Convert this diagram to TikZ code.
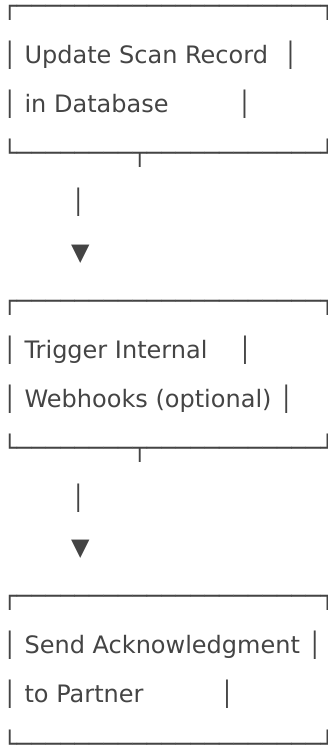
\documentclass[tikz,border=0pt]{standalone}
\usepackage{fontspec}
\setmainfont{DejaVu Sans}
\definecolor{ink}{HTML}{444444}
\begin{document}
\begin{tikzpicture}[x=1pt,y=1pt,
  row/.style={anchor=base west, inner sep=0pt, outer sep=0pt, text=ink,
    font=\fontsize{24}{24}\selectfont}]
\useasboundingbox (0,0) rectangle (328,-747);
% box 1
\node[row] (t1)  at (2.5,-14.1)  {┌─────────────────────┐};
\node[row] (a1)  at (2.5,-63.3)  {│\ Update Scan Record\ \ │};
\node[row] (b1)  at (2.5,-112.5) {│\ in Database\ \ \ \ \ \ \ \ \ │};
\node[row] (u1)  at (2.5,-161.7) {└────────┬────────────┘};
\node[row] (v1)  at (2.5,-210.9) {\ \ \ \ \ \ \ \ \ │};
\node[row] (w1)  at (2.5,-260.1) {\ \ \ \ \ \ \ \ \ ▼};
% box 2
\node[row] (t2)  at (2.5,-309.3) {┌─────────────────────┐};
\node[row] (a2)  at (2.5,-358.5) {│\ Trigger Internal\ \ \ \ │};
\node[row] (b2)  at (2.5,-407.7) {│\ Webhooks (optional)\ │};
\node[row] (u2)  at (2.5,-456.9) {└────────┬────────────┘};
\node[row] (v2)  at (2.5,-506.1) {\ \ \ \ \ \ \ \ \ │};
\node[row] (w2)  at (2.5,-555.3) {\ \ \ \ \ \ \ \ \ ▼};
% box 3
\node[row] (t3)  at (2.5,-604.5) {┌─────────────────────┐};
\node[row] (a3)  at (2.5,-653.7) {│\ Send Acknowledgment\ │};
\node[row] (b3)  at (2.5,-702.9) {│\ to Partner\ \ \ \ \ \ \ \ \ \ │};
\node[row] (u3)  at (2.5,-752.1) {└─────────────────────┘};
\end{tikzpicture}
\end{document}
